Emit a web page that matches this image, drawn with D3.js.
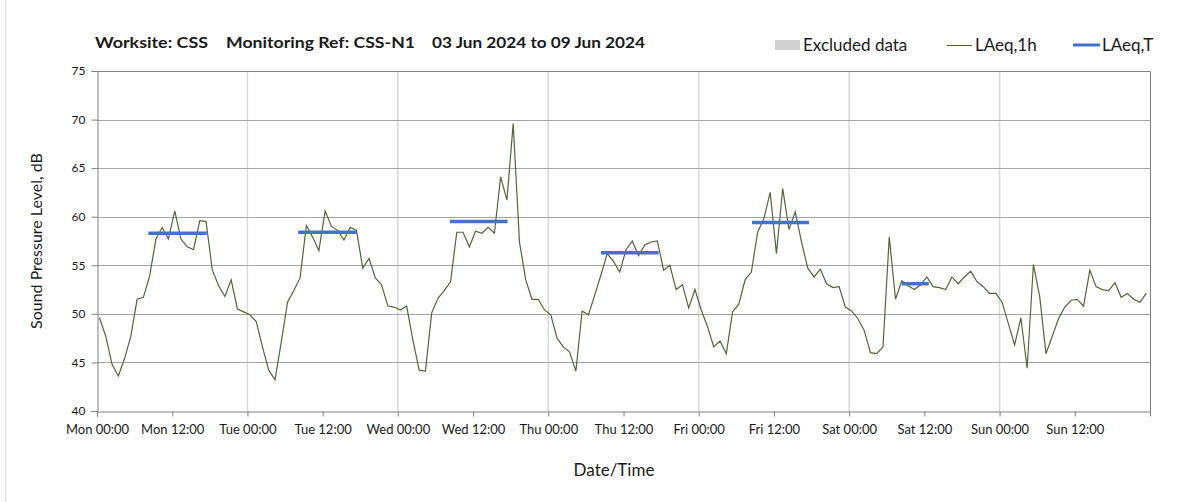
<!DOCTYPE html>
<html>
<head>
<meta charset="utf-8">
<script src="https://cdn.jsdelivr.net/npm/d3@7"></script>
<style>
  body { margin: 0; background: #fff; }
  svg text { font-family: Lato, "Open Sans", sans-serif; fill: #1a1a1a; }
</style>
</head>
<body>
<svg id="chart"></svg>
<script>
// hourly LAeq,1h readings, Mon 03 Jun 00:00 onwards (168 hours)
const laeq1h = [
  49.6, 47.7, 44.8, 43.6, 45.4, 47.7, 51.5, 51.7, 53.9, 57.7, 58.9, 57.7, 60.6, 57.7, 56.9, 56.6, 59.6, 59.5, 54.5, 52.9, 51.8, 53.5, 50.5, 50.2,
  49.9, 49.2, 46.6, 44.2, 43.2, 47.1, 51.2, 52.4, 53.7, 59.1, 57.9, 56.5, 60.6, 59.0, 58.6, 57.6, 58.9, 58.6, 54.7, 55.7, 53.7, 53.0, 50.8, 50.7,
  50.4, 50.8, 47.3, 44.2, 44.1, 50.1, 51.6, 52.4, 53.3, 58.4, 58.4, 56.9, 58.5, 58.3, 58.9, 58.3, 64.1, 61.7, 69.6, 57.4, 53.5, 51.5, 51.5, 50.4,
  49.9, 47.5, 46.6, 46.1, 44.1, 50.3, 49.9, 51.9, 54.0, 56.2, 55.4, 54.3, 56.6, 57.5, 56.0, 57.1, 57.4, 57.5, 54.5, 55.0, 52.5, 53.0, 50.6, 52.5,
  50.4, 48.7, 46.6, 47.2, 45.9, 50.2, 51.0, 53.5, 54.3, 58.4, 59.8, 62.5, 56.2, 62.9, 58.7, 60.5, 57.4, 54.7, 53.8, 54.6, 53.1, 52.7, 52.8, 50.7,
  50.3, 49.5, 48.3, 46.0, 45.9, 46.6, 57.9, 51.5, 53.4, 52.9, 52.5, 53.0, 53.8, 52.8, 52.7, 52.5, 53.8, 53.1, 53.8, 54.4, 53.3, 52.8, 52.1, 52.1,
  51.2, 49.0, 46.8, 49.6, 44.4, 55.1, 51.8, 45.9, 47.7, 49.5, 50.7, 51.4, 51.5, 50.8, 54.5, 52.8, 52.5, 52.4, 53.2, 51.7, 52.1, 51.5, 51.2, 52.1
];
const sampleOffset = 0.4; // hours, where each hourly reading sits in its hour

// LAeq,T periods (hours from Mon 00:00)
const periodStart = [8.2, 32.1, 56.3, 80.4, 104.5, 128.4];
const periodEnd   = [17.5, 41.4, 65.5, 89.6, 113.6, 132.7];
const periodLevel = [58.3, 58.4, 59.5, 56.3, 59.4, 53.1];

const dayNames = ["Mon", "Tue", "Wed", "Thu", "Fri", "Sat", "Sun"];
const yTicks = [40, 45, 50, 55, 60, 65, 70, 75];
const titleParts = ["Worksite: CSS", "Monitoring Ref: CSS-N1", "03 Jun 2024 to 09 Jun 2024"];

const width = 1203, height = 502;
const margin = { top: 71, right: 53, bottom: 91, left: 97 };

const svg = d3.select('#chart').attr('width', width).attr('height', height);

const x = d3.scaleLinear().domain([0, 168]).range([margin.left, width - margin.right]);
const y = d3.scaleLinear().domain([40, 75]).range([height - margin.bottom, margin.top]);

// outer chart border (left edge visible)
svg.append('line').attr('x1', 5.5).attr('x2', 5.5).attr('y1', 0).attr('y2', height)
  .attr('stroke', '#d9d9d9');

// vertical day gridlines
svg.append('g').selectAll('line')
  .data(d3.range(24, 168, 24))
  .join('line')
  .attr('x1', d => x(d)).attr('x2', d => x(d))
  .attr('y1', y(75)).attr('y2', y(40))
  .attr('stroke', '#d9d9d9').attr('stroke-width', 1.5);

// horizontal gridlines
svg.append('g').selectAll('line')
  .data(yTicks.slice(1))
  .join('line')
  .attr('x1', x(0)).attr('x2', x(168))
  .attr('y1', d => Math.round(y(d)) + 0.5).attr('y2', d => Math.round(y(d)) + 0.5)
  .attr('stroke', '#a6a6a6');

// axes
const yAxis = d3.axisLeft(y).tickValues(yTicks).tickSize(6).tickPadding(6);
const gy = svg.append('g').attr('transform', `translate(${Math.round(x(0)) + 0.5},0)`).call(yAxis);
gy.select('.domain').attr('stroke', '#808080');
gy.selectAll('.tick line').attr('stroke', '#808080');
gy.selectAll('.tick text').attr('font-size', 12).attr('fill', '#333');

const xAxis = d3.axisBottom(x).tickValues(d3.range(0, 168, 12)).tickSize(5).tickPadding(8)
  .tickFormat(d => dayNames[Math.floor(d / 24)] + (d % 24 ? ' 12:00' : ' 00:00'));
const gx = svg.append('g').attr('transform', `translate(0,${Math.round(y(40)) + 0.5})`).call(xAxis);
gx.select('.domain').attr('stroke', '#808080');
gx.selectAll('.tick line').attr('stroke', '#808080');
gx.selectAll('.tick text').attr('font-size', 13).attr('fill', '#1a2a44');

// top and right plot border
svg.append('path')
  .attr('d', `M${x(0)},${Math.round(y(75)) + 0.5}H${Math.round(x(168)) + 0.5}V${y(40) + 4}`)
  .attr('fill', 'none').attr('stroke', '#808080');

// LAeq,1h line
const line = d3.line()
  .x((d, i) => x(i + sampleOffset))
  .y(d => y(d));
svg.append('path')
  .datum(laeq1h)
  .attr('d', line)
  .attr('fill', 'none')
  .attr('stroke', '#51663a')
  .attr('stroke-width', 1.2);

// LAeq,T bars
svg.append('g').selectAll('line')
  .data(periodLevel)
  .join('line')
  .attr('x1', (d, i) => x(periodStart[i])).attr('x2', (d, i) => x(periodEnd[i]))
  .attr('y1', d => y(d)).attr('y2', d => y(d))
  .attr('stroke', '#4472c4').attr('stroke-width', 3.5);

// title
const titleX = [95, 226, 432];
const titleW = [113, 189, 213];
svg.append('g').selectAll('text')
  .data(titleParts)
  .join('text')
  .attr('x', (d, i) => titleX[i]).attr('y', 48)
  .attr('font-size', 16).attr('font-weight', 'bold')
  .attr('textLength', (d, i) => titleW[i]).attr('lengthAdjust', 'spacingAndGlyphs')
  .text(d => d);

// legend
const lg = svg.append('g');
lg.append('rect').attr('x', 775).attr('y', 40).attr('width', 25).attr('height', 10).attr('fill', '#d0d0d0');
lg.append('text').attr('x', 803).attr('y', 51).attr('font-size', 17).text('Excluded data');
lg.append('line').attr('x1', 947).attr('x2', 972).attr('y1', 45.5).attr('y2', 45.5).attr('stroke', '#4f6228');
lg.append('text').attr('x', 975).attr('y', 51).attr('font-size', 17).text('LAeq,1h');
lg.append('line').attr('x1', 1073).attr('x2', 1100).attr('y1', 45).attr('y2', 45).attr('stroke', '#4472c4').attr('stroke-width', 3);
lg.append('text').attr('x', 1102).attr('y', 51).attr('font-size', 17).text('LAeq,T');

// axis titles
svg.append('text').attr('x', 614).attr('y', 476)
  .attr('text-anchor', 'middle').attr('font-size', 17).text('Date/Time');
svg.append('text')
  .attr('transform', `translate(42,${(y(40) + y(75)) / 2}) rotate(-90)`)
  .attr('text-anchor', 'middle').attr('font-size', 16).text('Sound Pressure Level, dB');
</script>
</body>
</html>
